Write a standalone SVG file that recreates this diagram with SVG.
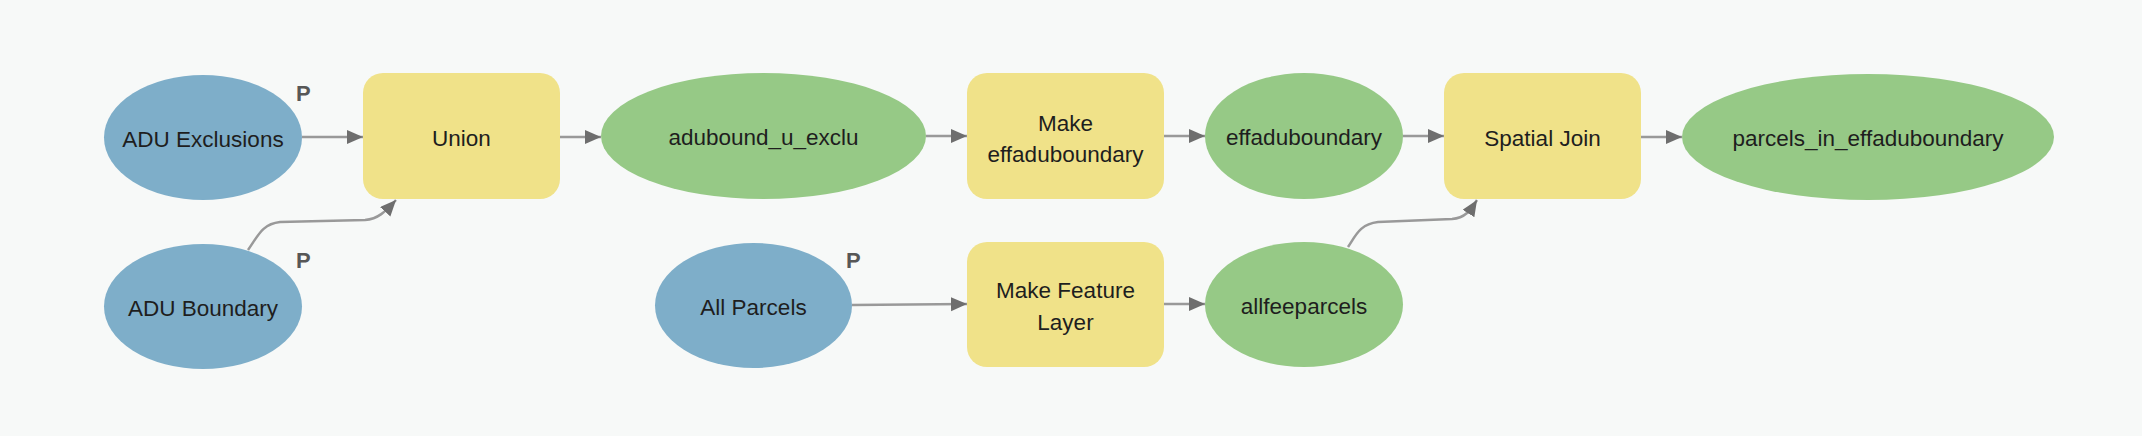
<svg xmlns="http://www.w3.org/2000/svg" width="2142" height="436" viewBox="0 0 2142 436">
<defs>
<marker id="arr" markerUnits="userSpaceOnUse" markerWidth="18" markerHeight="16" refX="16" refY="7" orient="auto">
<path d="M0,0 L16,7 L0,14 z" fill="#6e6e6e"/>
</marker>
<style>
.bg{fill:#f7f9f8}
.inp{fill:#7eaec9}
.der{fill:#96c986}
.tool{fill:#f0e289}
.lbl{font-family:"Liberation Sans",Arial,sans-serif;font-size:22.5px;fill:#1e1e1e;text-anchor:middle}
.p{font-family:"Liberation Sans",Arial,sans-serif;font-size:22px;font-weight:bold;fill:#575757}
.con{fill:none;stroke:#999999;stroke-width:2.5;marker-end:url(#arr)}
</style>
</defs>
<rect class="bg" x="0" y="0" width="2142" height="436"/>
<g id="connectors">
<path class="con" d="M302,137 L363,137"/>
<path class="con" d="M248,250 C258,236 262,224 280,222 L365,220 C378,219 385,212 396,200"/>
<path class="con" d="M560,137 L601,137"/>
<path class="con" d="M926,136 L967,136"/>
<path class="con" d="M1164,136 L1205,136"/>
<path class="con" d="M1403,136 L1444,136"/>
<path class="con" d="M1641,137 L1682,137"/>
<path class="con" d="M852,305 L967,304"/>
<path class="con" d="M1164,304 L1205,304"/>
<path class="con" d="M1348,247 C1356,235 1360,224 1378,222 L1452,219 C1465,218 1470,211 1477,200"/>
</g>
<g id="adu_exclusions">
<ellipse class="inp" cx="203" cy="137.5" rx="99" ry="62.5"/>
<text class="lbl" x="203" y="147">ADU Exclusions</text>
<text class="p" x="296" y="101">P</text>
</g>
<g id="adu_boundary">
<ellipse class="inp" cx="203" cy="306.5" rx="99" ry="62.5"/>
<text class="lbl" x="203" y="316">ADU Boundary</text>
<text class="p" x="296" y="268">P</text>
</g>
<g id="union">
<rect class="tool" x="363" y="73" width="197" height="126" rx="20"/>
<text class="lbl" x="461.5" y="146">Union</text>
</g>
<g id="adubound_u_exclu">
<ellipse class="der" cx="763.5" cy="136" rx="162.5" ry="63"/>
<text class="lbl" x="763.5" y="145">adubound_u_exclu</text>
</g>
<g id="make_effaduboundary">
<rect class="tool" x="967" y="73" width="197" height="126" rx="20"/>
<text class="lbl" x="1065.5" y="131">Make</text>
<text class="lbl" x="1065.5" y="162">effaduboundary</text>
</g>
<g id="effaduboundary">
<ellipse class="der" cx="1304" cy="136" rx="99" ry="63"/>
<text class="lbl" x="1304" y="145">effaduboundary</text>
</g>
<g id="spatial_join">
<rect class="tool" x="1444" y="73" width="197" height="126" rx="20"/>
<text class="lbl" x="1542.5" y="146">Spatial Join</text>
</g>
<g id="parcels_in_effaduboundary">
<ellipse class="der" cx="1868" cy="137" rx="186" ry="63"/>
<text class="lbl" x="1868" y="146">parcels_in_effaduboundary</text>
</g>
<g id="all_parcels">
<ellipse class="inp" cx="753.5" cy="305.5" rx="98.5" ry="62.5"/>
<text class="lbl" x="753.5" y="315">All Parcels</text>
<text class="p" x="846" y="268">P</text>
</g>
<g id="make_feature_layer">
<rect class="tool" x="967" y="242" width="197" height="125" rx="20"/>
<text class="lbl" x="1065.5" y="298">Make Feature</text>
<text class="lbl" x="1065.5" y="330">Layer</text>
</g>
<g id="allfeeparcels">
<ellipse class="der" cx="1304" cy="304.5" rx="99" ry="62.5"/>
<text class="lbl" x="1304" y="314">allfeeparcels</text>
</g>
</svg>
